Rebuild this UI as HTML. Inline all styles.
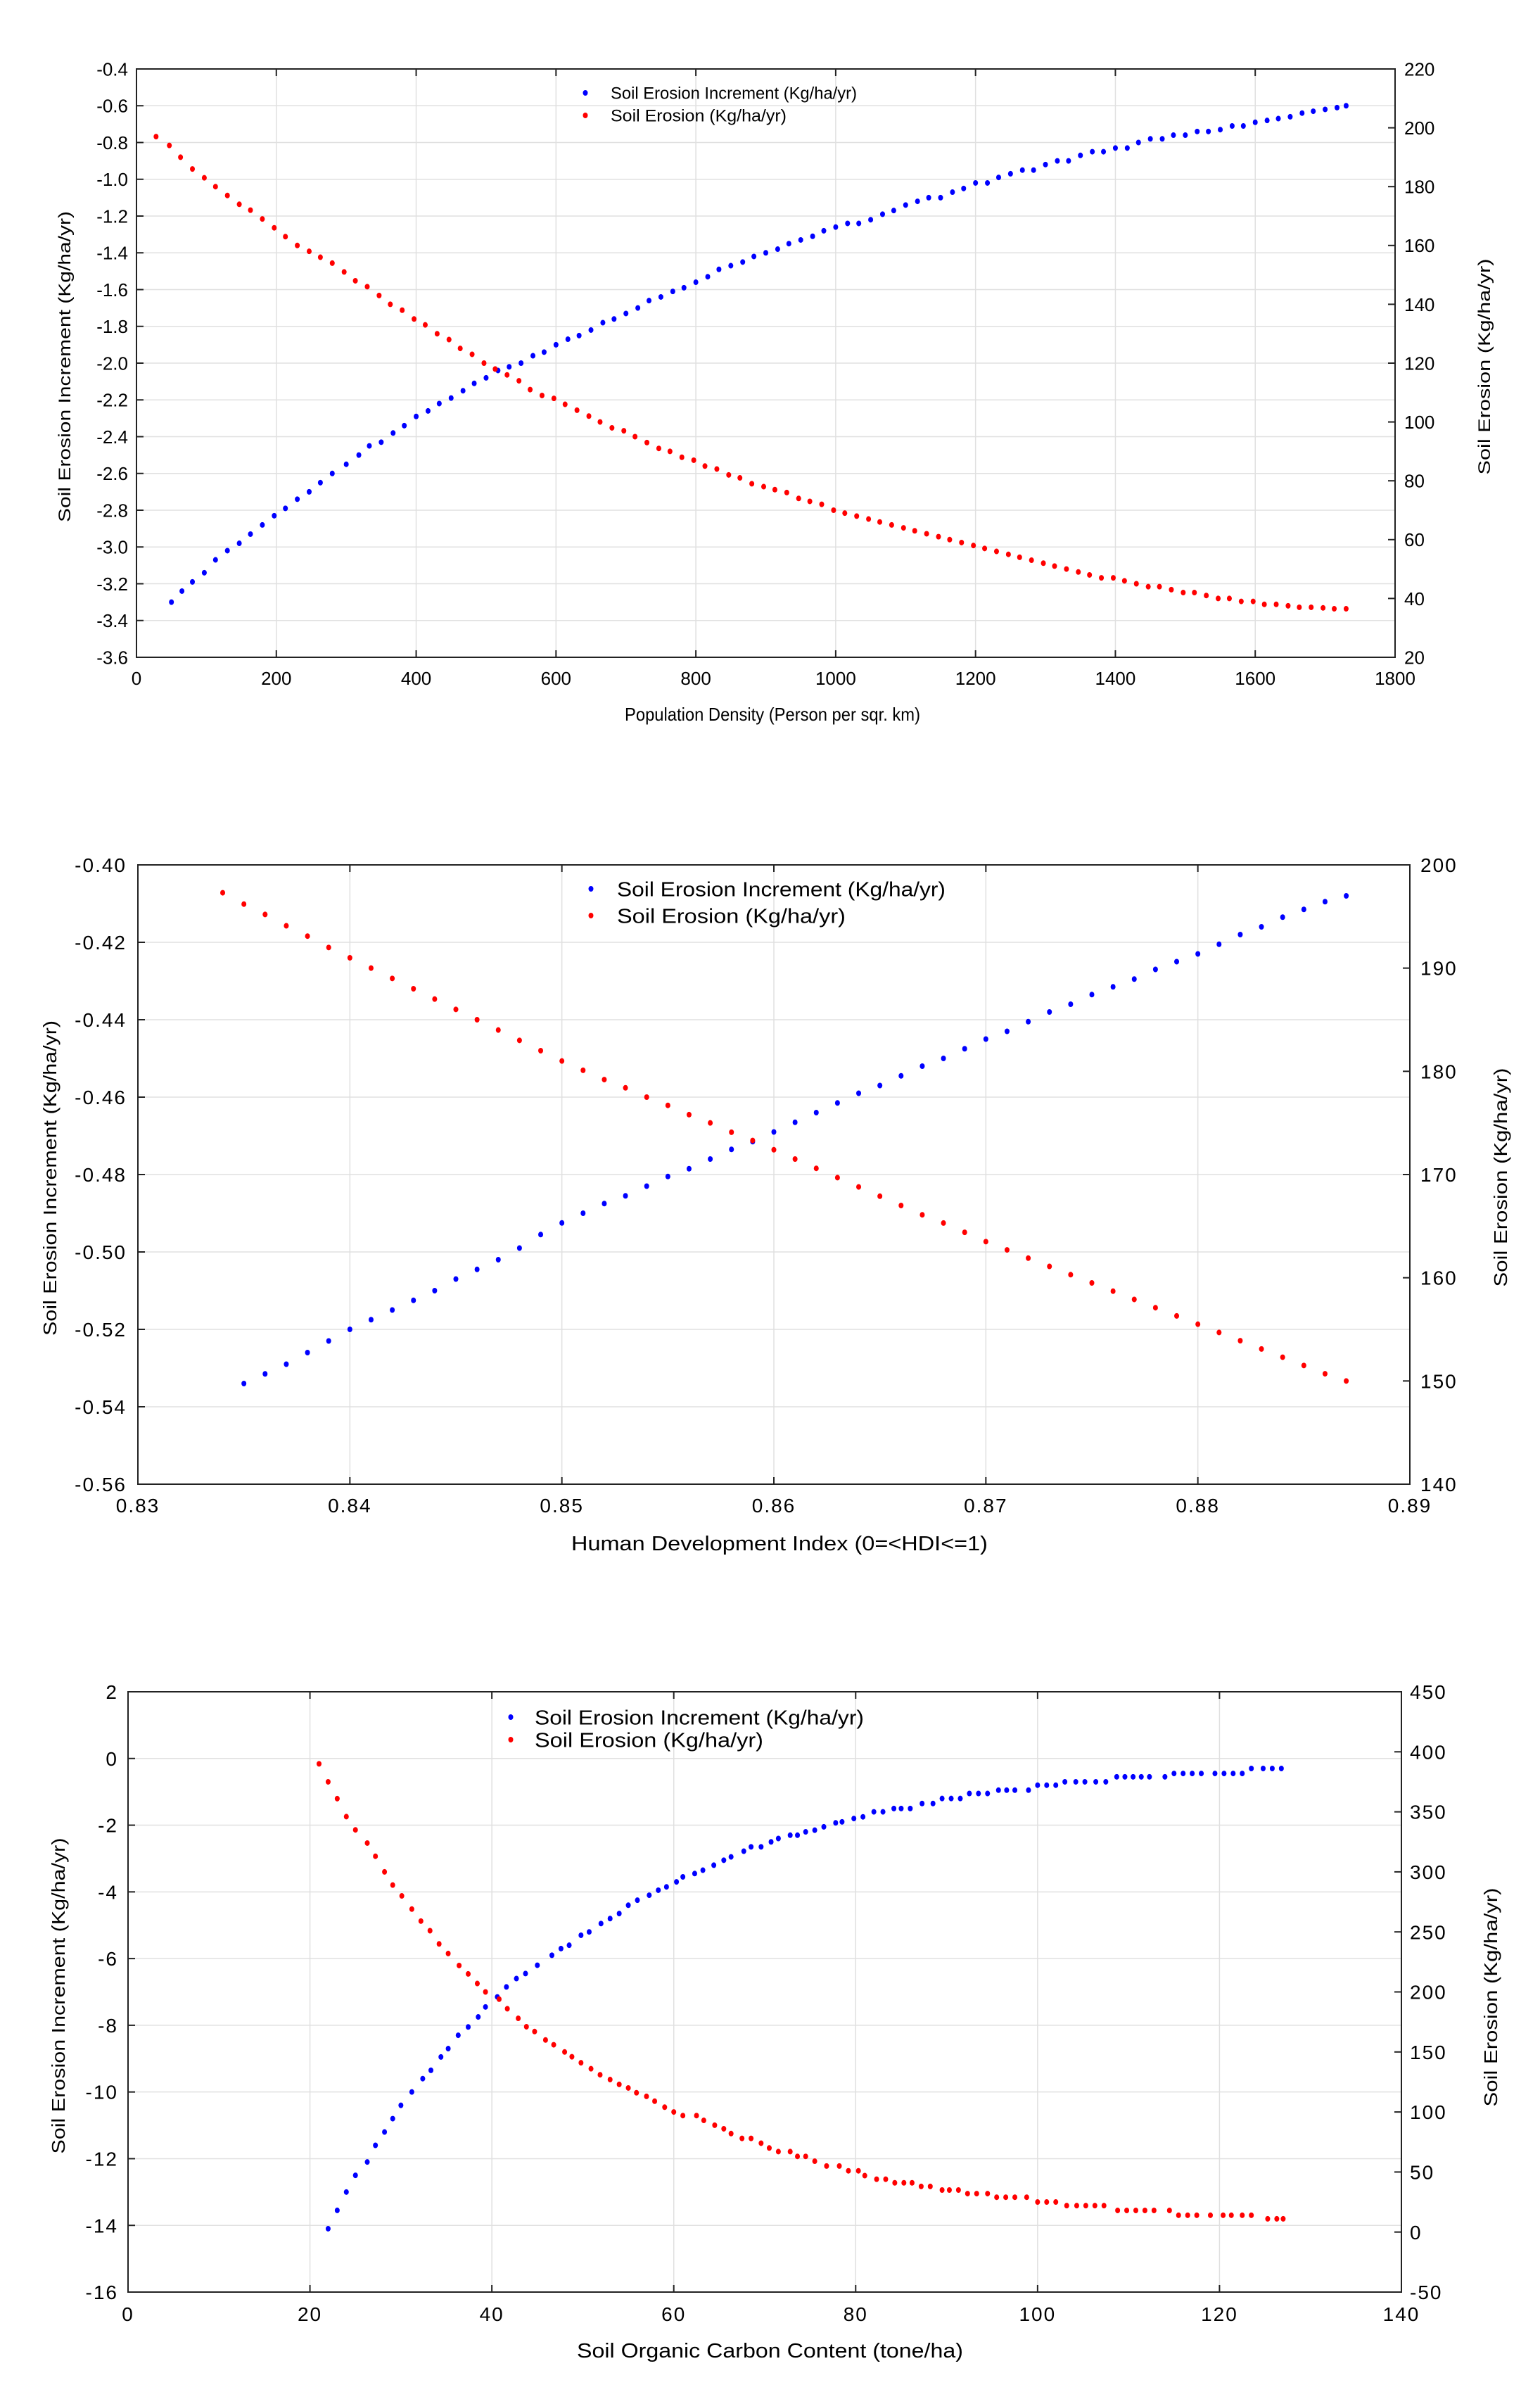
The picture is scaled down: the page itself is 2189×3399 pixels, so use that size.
<!DOCTYPE html>
<html><head><meta charset="utf-8"><style>
html,body{margin:0;padding:0;background:#fff}
svg{display:block}
text{fill:#000}
.tk{font-family:"Liberation Sans",sans-serif}
.tt{font-family:"Liberation Sans",sans-serif}
</style></head><body>
<svg id="s" width="2189" height="3399" viewBox="0 0 2189 3399" xmlns="http://www.w3.org/2000/svg"></svg>
<script>
// ---- Chart 1: Population density ----
const c1BlueX=[50,65,80,97,113,130,147,163,180,197,213,230,247,263,280,300,318,333,350,367,383,400,417,433,450,467,483,500,517,533,550,567,583,600,617,633,650,667,683,700,717,733,750,767,783,800,817,833,850,867,883,900,917,933,950,967,983,1000,1017,1033,1050,1067,1083,1100,1117,1133,1150,1167,1183,1200,1217,1233,1250,1267,1283,1300,1317,1333,1350,1367,1383,1400,1417,1433,1450,1467,1483,1500,1517,1533,1550,1567,1583,1600,1617,1633,1650,1667,1683,1700,1717,1730];
const c1BlueY=[-3.30,-3.24,-3.19,-3.14,-3.07,-3.02,-2.98,-2.93,-2.88,-2.83,-2.79,-2.74,-2.70,-2.65,-2.60,-2.55,-2.50,-2.45,-2.43,-2.38,-2.34,-2.29,-2.26,-2.22,-2.19,-2.15,-2.11,-2.08,-2.04,-2.02,-2.00,-1.96,-1.94,-1.90,-1.87,-1.85,-1.82,-1.78,-1.76,-1.73,-1.70,-1.66,-1.64,-1.61,-1.59,-1.56,-1.53,-1.49,-1.47,-1.45,-1.42,-1.40,-1.38,-1.35,-1.33,-1.31,-1.28,-1.26,-1.24,-1.24,-1.22,-1.19,-1.17,-1.14,-1.12,-1.10,-1.10,-1.07,-1.05,-1.02,-1.02,-0.99,-0.97,-0.95,-0.95,-0.92,-0.90,-0.90,-0.87,-0.85,-0.85,-0.83,-0.83,-0.80,-0.78,-0.78,-0.76,-0.76,-0.74,-0.74,-0.73,-0.71,-0.71,-0.69,-0.68,-0.67,-0.66,-0.64,-0.63,-0.62,-0.61,-0.60];
const c1RedX=[28,47,63,80,97,113,130,147,163,180,197,213,230,247,263,280,297,313,330,347,363,380,397,413,430,447,463,480,497,513,530,547,563,580,597,613,630,647,663,680,697,713,730,747,763,780,797,813,830,847,863,880,897,913,930,947,963,980,997,1013,1030,1047,1063,1080,1097,1113,1130,1147,1163,1180,1197,1213,1230,1247,1263,1280,1297,1313,1330,1347,1363,1380,1397,1413,1430,1447,1463,1480,1497,1513,1530,1547,1563,1580,1597,1613,1630,1647,1663,1680,1697,1713,1730];
const c1RedY=[197,194,190,186,183,180,177,174,172,169,166,163,160,158,156,154,151,148,146,143,140,138,135,133,130,128,125,123,120,118,116,114,111,109,108,106,104,102,100,98,97,95,93,91,90,88,87,85,84,82,81,79,78,77,76,74,73,72,70,69,68,67,66,65,64,63,62,61,60,59,58,57,56,55,54,53,52,51,50,49,48,47,47,46,45,44,44,43,42,42,41,40,40,39,39,38,38,37.5,37,37,36.8,36.5,36.5];
const c1XTicks=[0,200,400,600,800,1000,1200,1400,1600,1800];
const c1YTicks=[-3.6,-3.4,-3.2,-3.0,-2.8,-2.6,-2.4,-2.2,-2.0,-1.8,-1.6,-1.4,-1.2,-1.0,-0.8,-0.6,-0.4];
const c1Y2Ticks=[20,40,60,80,100,120,140,160,180,200,220];

// ---- Chart 2: HDI ----
const c2BlueX=[0.835,0.836,0.837,0.838,0.839,0.840,0.841,0.842,0.843,0.844,0.845,0.846,0.847,0.848,0.849,0.850,0.851,0.852,0.853,0.854,0.855,0.856,0.857,0.858,0.859,0.860,0.861,0.862,0.863,0.864,0.865,0.866,0.867,0.868,0.869,0.870,0.871,0.872,0.873,0.874,0.875,0.876,0.877,0.878,0.879,0.880,0.881,0.882,0.883,0.884,0.885,0.886,0.887];
const c2BlueY=[-0.5340,-0.5315,-0.5290,-0.5260,-0.5230,-0.5200,-0.5175,-0.5150,-0.5125,-0.5100,-0.5070,-0.5045,-0.5020,-0.4990,-0.4955,-0.4925,-0.4900,-0.4875,-0.4855,-0.4830,-0.4805,-0.4785,-0.4760,-0.4735,-0.4715,-0.4690,-0.4665,-0.4640,-0.4615,-0.4590,-0.4570,-0.4545,-0.4520,-0.4500,-0.4475,-0.4450,-0.4430,-0.4405,-0.4380,-0.4360,-0.4335,-0.4315,-0.4295,-0.4270,-0.4250,-0.4230,-0.4205,-0.4180,-0.4160,-0.4135,-0.4115,-0.4095,-0.4080];
const c2RedX=[0.834,0.835,0.836,0.837,0.838,0.839,0.840,0.841,0.842,0.843,0.844,0.845,0.846,0.847,0.848,0.849,0.850,0.851,0.852,0.853,0.854,0.855,0.856,0.857,0.858,0.859,0.860,0.861,0.862,0.863,0.864,0.865,0.866,0.867,0.868,0.869,0.870,0.871,0.872,0.873,0.874,0.875,0.876,0.877,0.878,0.879,0.880,0.881,0.882,0.883,0.884,0.885,0.886,0.887];
const c2RedY=[197.3,196.2,195.2,194.1,193.1,192.0,191.0,190.0,189.0,188.0,187.0,186.0,185.0,184.0,183.0,182.0,181.0,180.1,179.2,178.4,177.5,176.7,175.8,175.0,174.1,173.3,172.4,171.5,170.6,169.7,168.8,167.9,167.0,166.1,165.3,164.4,163.5,162.7,161.9,161.1,160.3,159.5,158.7,157.9,157.1,156.3,155.5,154.7,153.9,153.1,152.3,151.5,150.7,150.0];
const c2XTicks=[0.83,0.84,0.85,0.86,0.87,0.88,0.89];
const c2YTicks=[-0.56,-0.54,-0.52,-0.50,-0.48,-0.46,-0.44,-0.42,-0.40];
const c2Y2Ticks=[140,150,160,170,180,190,200];

// ---- Chart 3: SOC ----
const c3BlueX=[22,23,24,25,26.3,27.2,28.2,29.1,30,31.2,32.4,33.3,34.4,35.2,36.3,37.4,38.5,39.3,40.6,41.6,42.7,43.7,45,46.6,47.6,48.5,49.8,50.7,52,53,54,55,56,57.3,58.3,59.2,60.3,61,62.3,63.2,64.4,65.5,66.3,67.7,68.5,69.6,70.7,71.5,72.8,73.6,74.5,75.5,76.5,77.8,78.5,79.8,80.8,82,83,84.2,85,86,87.3,88.5,89.5,90.5,91.5,92.5,93.5,94.5,95.7,96.6,97.5,99,100,101,102,103,104.2,105.2,106.4,107.5,108.7,109.6,110.5,111.4,112.3,114,115,116,117,118,119.5,120.5,121.5,122.5,123.5,124.8,125.8,126.8];
const c3BlueY=[-14.1,-13.55,-13.0,-12.5,-12.1,-11.6,-11.2,-10.8,-10.4,-10.0,-9.6,-9.35,-8.95,-8.7,-8.3,-8.05,-7.75,-7.45,-7.15,-6.85,-6.6,-6.45,-6.2,-5.9,-5.7,-5.6,-5.3,-5.2,-4.95,-4.8,-4.65,-4.4,-4.25,-4.1,-3.95,-3.85,-3.7,-3.55,-3.45,-3.35,-3.2,-3.05,-2.95,-2.78,-2.65,-2.65,-2.5,-2.4,-2.3,-2.3,-2.2,-2.15,-2.05,-1.93,-1.9,-1.8,-1.75,-1.6,-1.6,-1.5,-1.5,-1.5,-1.35,-1.35,-1.2,-1.2,-1.2,-1.05,-1.05,-1.05,-0.95,-0.95,-0.95,-0.95,-0.8,-0.8,-0.8,-0.7,-0.7,-0.7,-0.7,-0.7,-0.55,-0.55,-0.55,-0.55,-0.55,-0.55,-0.45,-0.45,-0.45,-0.45,-0.45,-0.45,-0.45,-0.45,-0.3,-0.3,-0.3,-0.3];
const c3RedX=[21,22,23,24,25,26.3,27.2,28.2,29.1,30.1,31.2,32.2,33.2,34.2,35.2,36.4,37.4,38.4,39.3,40.8,41.7,42.9,43.8,44.7,45.9,46.8,48,48.8,49.8,50.9,51.9,53,54,55,55.9,57,57.9,59,60,61,62.5,63.3,64.5,65.5,66.3,67.5,68.5,69.6,70.5,71.5,72.8,73.6,74.5,75.5,76.8,78.2,79.2,80.3,81,82.3,83.3,84.3,85.3,86.2,87.2,88.2,89.5,90.3,91.3,92.3,93.3,94.5,95.5,96.5,97.5,98.8,100,101,102,103.2,104.3,105.3,106.3,107.3,108.8,109.8,110.8,111.8,112.8,114.5,115.5,116.5,117.5,119,120.4,121.3,122.5,123.5,125.3,126.3,127];
const c3RedY=[390,375,361,346,335,324,313,300,289,280,269,259,251,240,232,222,215,207,200,194,186,178,171,167,160,156,150,146,141,136,131,127,123,120,116,113,109,104,100,97,97,93,89,86,82,78,78,74,70,67,67,63,63,59,55,55,51,51,47,44,44,41,41,41,38,38,35,35,35,32,32,32,29,29,29,29,25,25,25,22,22,22,22,22,18,18,18,18,18,18,14,14,14,14,14,14,14,14,11,11,11];
const c3XTicks=[0,20,40,60,80,100,120,140];
const c3YTicks=[-16,-14,-12,-10,-8,-6,-4,-2,0,2];
const c3Y2Ticks=[-50,0,50,100,150,200,250,300,350,400,450];

const NS='http://www.w3.org/2000/svg';
const svg=document.getElementById('s');
function mk(tag,attrs,parent,txt){const e=document.createElementNS(NS,tag);for(const k in attrs)e.setAttribute(k,attrs[k]);if(txt!==undefined)e.textContent=txt;(parent||svg).appendChild(e);return e;}

function chart(cfg){
  const g=mk('g',{});
  
  
  const {L,R,T,B}=cfg;
  const xs=v=>L+(v-cfg.x0)/(cfg.x1-cfg.x0)*(R-L);
  const ys=v=>B-(v-cfg.y0)/(cfg.y1-cfg.y0)*(B-T);
  const y2s=v=>B-(v-cfg.r0)/(cfg.r1-cfg.r0)*(B-T);
  const ls=cfg.ls||0;
  cfg.xt.forEach(v=>{const l=mk('line',{x1:xs(v),x2:xs(v),y1:T,y2:B,stroke:'#e0e0e0','stroke-width':1.5},g);});
  cfg.yt.forEach(v=>{const l=mk('line',{x1:L,x2:R,y1:ys(v),y2:ys(v),stroke:'#e0e0e0','stroke-width':1.5},g);});
  const fr=mk('rect',{x:L,y:T,width:R-L,height:B-T,fill:'none',stroke:'#222','stroke-width':2},g);
  
  cfg.xt.forEach((v,i)=>{
    mk('line',{x1:xs(v),x2:xs(v),y1:B,y2:B-10,stroke:'#222','stroke-width':2},g);
    mk('line',{x1:xs(v),x2:xs(v),y1:T,y2:T+10,stroke:'#222','stroke-width':2},g);
    const t=mk('text',{x:xs(v),y:cfg.xly,'text-anchor':'middle','font-size':cfg.fs,'letter-spacing':ls,class:'tk'},g,cfg.xfmt(v));
    
  });
  cfg.yt.forEach(v=>{
    mk('line',{x1:L,x2:L+10,y1:ys(v),y2:ys(v),stroke:'#222','stroke-width':2},g);
    const t=mk('text',{x:cfg.ylx,y:ys(v)+cfg.fs*0.36,'text-anchor':'end','font-size':cfg.fs,'letter-spacing':ls,class:'tk'},g,cfg.yfmt(v));
    
  });
  cfg.rt.forEach(v=>{
    mk('line',{x1:R,x2:R-10,y1:y2s(v),y2:y2s(v),stroke:'#222','stroke-width':2},g);
    const t=mk('text',{x:cfg.rlx,y:y2s(v)+cfg.fs*0.36,'text-anchor':'start','font-size':cfg.fs,'letter-spacing':ls,class:'tk'},g,String(v));
    
  });
  const xt=mk('text',{x:cfg.xtx,y:cfg.xty,'font-size':cfg.tfs,class:'tk',textLength:cfg.xtl,lengthAdjust:'spacingAndGlyphs'},g,cfg.xtitle);
  
  const yt=mk('text',{x:0,y:0,'font-size':cfg.yfs,class:'tt','text-anchor':'middle',textLength:cfg.ytl,lengthAdjust:'spacingAndGlyphs',transform:`translate(${cfg.ytx},${cfg.yty}) rotate(-90)`},g,'Soil Erosion Increment (Kg/ha/yr)');
  
  const rt=mk('text',{x:0,y:0,'font-size':cfg.yfs,class:'tt','text-anchor':'middle',textLength:cfg.rtl,lengthAdjust:'spacingAndGlyphs',transform:`translate(${cfg.rtx},${cfg.rty}) rotate(-90)`},g,'Soil Erosion  (Kg/ha/yr)');
  
  cfg.bx.forEach((x,i)=>{const c=mk('ellipse',{cx:xs(x),cy:ys(cfg.by[i]),rx:3.5,ry:4,fill:'#0000ff'},g);
    });
  cfg.rx.forEach((x,i)=>{const c=mk('ellipse',{cx:xs(x),cy:y2s(cfg.ry[i]),rx:3.5,ry:4,fill:'#ff0000'},g);
    });
  const lg=mk('g',{},g);
  mk('ellipse',{cx:cfg.lgx,cy:cfg.lgy1,rx:3.5,ry:4,fill:'#0000ff'},lg);
  mk('ellipse',{cx:cfg.lgx,cy:cfg.lgy2,rx:3.5,ry:4,fill:'#ff0000'},lg);
  const l1=mk('text',{x:cfg.lgtx,y:cfg.lgy1+cfg.lfs*0.36,'font-size':cfg.lfs,class:'tk',textLength:cfg.lt1,lengthAdjust:'spacingAndGlyphs'},lg,'Soil Erosion Increment (Kg/ha/yr)');
  
  const l2=mk('text',{x:cfg.lgtx,y:cfg.lgy2+cfg.lfs*0.36,'font-size':cfg.lfs,class:'tk',textLength:cfg.lt2,lengthAdjust:'spacingAndGlyphs'},lg,'Soil Erosion  (Kg/ha/yr)');
  
}

chart({name:'population-density-chart',L:194,R:1983,T:98,B:934,x0:0,x1:1800,y0:-3.6,y1:-0.4,r0:20,r1:220,
  xt:c1XTicks,yt:c1YTicks,rt:c1Y2Ticks,xfmt:v=>String(v),yfmt:v=>v.toFixed(1),fs:26,ls:0,xly:973,ylx:182,rlx:1996,
  xtitle:'Population Density (Person per sqr. km)',xtx:888,xty:1024,xtl:420,tfs:26,
  yfs:24,ytx:100,yty:521,ytl:442,rtx:2118,rty:521,rtl:307,
  bx:c1BlueX,by:c1BlueY,rx:c1RedX,ry:c1RedY,lgx:832,lgy1:132,lgy2:164,lgtx:868,lfs:24,lt1:350,lt2:250});
chart({name:'hdi-chart',L:196,R:2004,T:1229,B:2109,x0:0.83,x1:0.89,y0:-0.56,y1:-0.40,r0:140,r1:200,
  xt:c2XTicks,yt:c2YTicks,rt:c2Y2Ticks,xfmt:v=>v.toFixed(2),yfmt:v=>v.toFixed(2),fs:28,ls:2,xly:2149,ylx:180,rlx:2019,
  xtitle:'Human Development Index (0=<HDI<=1)',xtx:812,xty:2203,xtl:592,tfs:29,
  yfs:26,ytx:80,yty:1674,ytl:448,rtx:2142,rty:1673,rtl:311,
  bx:c2BlueX,by:c2BlueY,rx:c2RedX,ry:c2RedY,lgx:840,lgy1:1263,lgy2:1301,lgtx:877,lfs:29,lt1:467,lt2:325});
chart({name:'soil-organic-carbon-chart',L:182,R:1992,T:2404,B:3257,x0:0,x1:140,y0:-16,y1:2,r0:-50,r1:450,
  xt:c3XTicks,yt:c3YTicks,rt:c3Y2Ticks,xfmt:v=>String(v),yfmt:v=>String(v),fs:28,ls:2,xly:3298,ylx:168,rlx:2004,
  xtitle:'Soil Organic Carbon Content (tone/ha)',xtx:820,xty:3350,xtl:549,tfs:29,
  yfs:26,ytx:92,yty:2836,ytl:449,rtx:2128,rty:2838,rtl:311,
  bx:c3BlueX,by:c3BlueY,rx:c3RedX,ry:c3RedY,lgx:726,lgy1:2440,lgy2:2472,lgtx:760,lfs:29,lt1:468,lt2:325});
</script>
</body></html>
